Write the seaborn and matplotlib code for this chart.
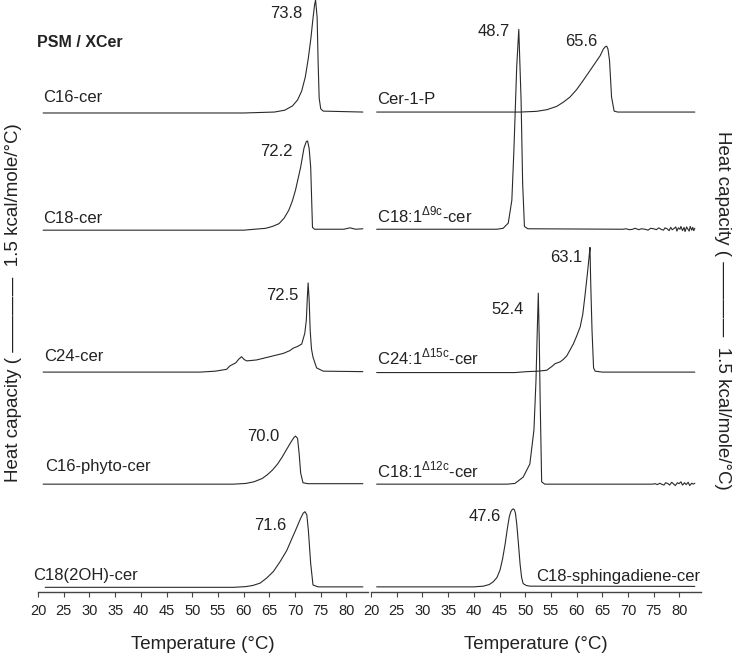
import matplotlib
matplotlib.use('Agg')
import matplotlib.pyplot as plt
import numpy as np
import seaborn as sns

# DSC thermograms of PSM / X-ceramide mixtures, Cp in kcal/mole/°C above each baseline
# ---- left panel ----
c16_T = [21.0, 60.0, 66.0, 68.0, 69.5, 70.5, 71.3, 72.0, 72.6, 73.1, 73.5, 73.8, 74.0, 74.3, 74.5, 74.7, 75.0, 75.5, 83.2]
c16_cp = [0, 0, 0.02, 0.06, 0.15, 0.28, 0.47, 0.77, 1.18, 1.61, 2.03, 2.31, 2.42, 2.05, 1.07, 0.32, 0.09, 0.04, 0.02]

c18_T = [21.0, 60.0, 64.3, 65.6, 66.9, 67.9, 68.8, 69.5, 70.1, 71.1, 71.75, 72.2, 72.45, 72.75, 73.05, 73.4, 73.8,
         79.5, 80.7, 81.8, 83.2]
c18_cp = [0, 0, 0.04, 0.08, 0.14, 0.26, 0.43, 0.63, 0.86, 1.35, 1.76, 1.9, 1.91, 1.75, 1.35, 0.06, 0.02,
          0.02, 0.05, 0.02, 0.03]

c24_T = [21.0, 51.5, 54.5, 56.7, 57.3, 58.5, 59.0, 59.6, 60.1, 60.6, 62.5, 65.1, 67.7, 69.0, 69.6, 70.5, 71.3,
         71.9, 72.2, 72.4, 72.55, 72.75, 72.95, 73.2, 73.5, 74.2, 75.5, 83.2]
c24_cp = [0, 0, 0.02, 0.06, 0.13, 0.2, 0.27, 0.33, 0.27, 0.24, 0.26, 0.33, 0.40, 0.46, 0.51, 0.55, 0.60,
          0.83, 1.11, 1.6, 1.91, 1.55, 0.9, 0.5, 0.32, 0.09, 0.02, 0.01]

phyto_T = [21.0, 58.0, 60.4, 62.0, 63.6, 64.6, 65.6, 66.6, 67.5, 68.4, 69.2, 69.8, 70.1, 70.5, 70.8, 71.1,
           71.55, 72.5, 83.2]
phyto_cp = [0, 0, 0.015, 0.05, 0.12, 0.2, 0.30, 0.43, 0.58, 0.75, 0.90, 1.0, 1.03, 0.98, 0.66, 0.24,
            0.03, 0.01, 0.01]

oh_T = [21.4, 58.0, 60.4, 61.8, 63.2, 64.5, 65.8, 67.1, 68.4, 69.3, 70.1, 71.1, 71.6, 71.95, 72.3, 72.6,
        73.05, 73.5, 74.5, 83.2]
oh_cp = [0, 0, 0.015, 0.04, 0.09, 0.2, 0.34, 0.55, 0.79, 1.02, 1.22, 1.48, 1.59, 1.62, 1.55, 1.22,
         0.51, 0.05, 0.01, 0.01]

# ---- right panel ----
c1p_T = [21.1, 49.0, 52.2, 54.2, 56.1, 57.4, 58.7, 60.0, 61.3, 62.3, 63.3, 64.6, 65.2, 65.6, 65.85, 66.1,
         66.4, 66.8, 67.3, 68.0, 83.0]
c1p_cp = [0, 0, 0.015, 0.05, 0.12, 0.21, 0.32, 0.48, 0.68, 0.84, 1.00, 1.21, 1.35, 1.40, 1.41, 1.35,
          1.11, 0.32, 0.02, 0.0, 0.0]

d9_T = [21.1, 44.5, 45.7, 46.7, 47.4, 47.8, 48.35, 48.75, 49.2, 49.5, 49.85, 50.5,
        69.0, 69.6, 70.3, 70.9, 71.4, 72.1, 72.6, 73.3, 73.9, 74.4, 75.0, 75.5, 76.0, 76.4, 76.9, 77.2,
        77.6, 78.0, 78.3, 78.6, 79.0, 79.3, 79.5, 79.8, 80.1, 80.3, 80.6, 80.9, 81.1, 81.4, 81.6, 81.9,
        82.1, 82.4, 82.6, 82.8, 83.0]
d9_cp = [0, 0, 0.02, 0.13, 0.62, 1.69, 3.49, 4.28, 2.76, 0.99, 0.06, 0.01,
         0, 0.01, -0.01, 0.0, 0.02, -0.01, 0.01, 0.0, -0.02, 0.02, 0.01, -0.01, 0.03, 0.0, -0.02, 0.03,
         0.01, -0.03, 0.04, -0.01, 0.02, 0.05, -0.04, 0.03, 0.0, 0.06, -0.03, 0.04, -0.05, 0.05, 0.01,
         -0.04, 0.06, -0.02, 0.04, -0.03, 0.02]

d15_T = [21.1, 48.0, 50.3, 52.5, 54.2, 55.3, 55.8, 56.8, 57.4, 58.1, 59.4, 60.0, 60.7, 61.2, 61.6, 62.1,
         62.45, 62.6, 62.75, 63.0, 63.3, 63.6, 65.0, 83.0]
d15_cp = [0, 0, 0.02, 0.03, 0.05, 0.14, 0.19, 0.23, 0.28, 0.36, 0.62, 0.78, 0.98, 1.25, 1.62, 2.12,
          2.5, 2.68, 1.9, 0.9, 0.1, 0.03, 0.01, 0.01]

d12_T = [21.1, 46.5, 48.0, 49.6, 50.9, 51.7, 52.1, 52.35, 52.55, 52.75, 52.9, 53.2, 53.8, 74.8,
         75.3, 75.7, 76.2, 76.5, 77.0, 77.3, 77.8, 78.1, 78.5, 78.9, 79.2, 79.6, 79.9, 80.3, 80.6,
         81.0, 81.3, 81.7, 82.0, 82.4, 82.7, 83.0]
d12_cp = [0, 0, 0.015, 0.15, 0.43, 1.16, 2.23, 3.3, 4.09, 3.0, 1.86, 0.05, 0.0, 0.0,
          0.01, -0.01, 0.02, 0.0, -0.02, 0.03, 0.01, -0.02, 0.04, 0.0, -0.03, 0.03, 0.01, 0.05, -0.02,
          0.03, -0.01, 0.04, -0.03, 0.02, 0.0, 0.02]

sph_T = [21.1, 40.0, 41.85, 43.0, 43.8, 44.5, 45.1, 45.6, 46.1, 46.5, 46.9, 47.2, 47.5, 47.7, 47.9,
         48.1, 48.35, 48.7, 49.0, 49.3, 49.6, 50.2, 50.9, 83.0]
sph_cp = [0, 0, 0.015, 0.05, 0.11, 0.2, 0.36, 0.6, 0.92, 1.23, 1.50, 1.61, 1.66, 1.67, 1.65,
          1.58, 1.35, 0.9, 0.49, 0.2, 0.07, 0.03, 0.015, 0.01]

left_offsets = [10.26, 7.75, 4.71, 2.31, 0.10]
right_offsets = [10.28, 7.77, 4.70, 2.31, 0.11]

left_names = ['C16-cer', 'C18-cer', 'C24-cer', 'C16-phyto-cer', 'C18(2OH)-cer']
right_names = ['Cer-1-P', 'C18:1$^{\\mathregular{\\Delta 9c}}$-cer', 'C24:1$^{\\mathregular{\\Delta 15c}}$-cer',
               'C18:1$^{\\mathregular{\\Delta 12c}}$-cer', 'C18-sphingadiene-cer']
left_peaks = ['73.8', '72.2', '72.5', '70.0', '71.6']
right_peaks = ['48.7', '65.6', '63.1', '52.4', '47.6']
ticks = [20, 25, 30, 35, 40, 45, 50, 55, 60, 65, 70, 75, 80]

sns.set_style('ticks')
plt.rcParams['font.family'] = ['Liberation Sans', 'DejaVu Sans']
plt.rcParams['mathtext.fontset'] = 'custom'
plt.rcParams['mathtext.rm'] = 'Liberation Sans'

fig = plt.figure(figsize=(7.44, 6.58), dpi=100)
axL = fig.add_axes([38 / 744, 66 / 658, 330 / 744, 592 / 658])
axR = fig.add_axes([371 / 744, 66 / 658, 330 / 744, 592 / 658])

line_col = '#2a2a2a'
left_curves = [(c16_T, c16_cp), (c18_T, c18_cp), (c24_T, c24_cp), (phyto_T, phyto_cp), (oh_T, oh_cp)]
right_curves = [(c1p_T, c1p_cp), (d9_T, d9_cp), (d15_T, d15_cp), (d12_T, d12_cp), (sph_T, sph_cp)]

for ax, curves, offs in [(axL, left_curves, left_offsets), (axR, right_curves, right_offsets)]:
    for (t, cp), off in zip(curves, offs):
        sns.lineplot(x=t, y=np.array(cp) + off, ax=ax, color=line_col, lw=0.8,
                     sort=False, estimator=None)
    ax.set_xlim(20, 84.2)
    ax.set_ylim(0, 12.68)
    ax.set_xticks(ticks)
    ax.set_yticks([])
    for s in ['top', 'left', 'right']:
        ax.spines[s].set_visible(False)
    ax.spines['bottom'].set_color('#444444')
    ax.spines['bottom'].set_linewidth(1.0)
    ax.tick_params(axis='x', direction='out', length=3.5, width=0.8, color='#444444',
                   pad=5, labelcolor='#222222', labelsize=10.5)
    ax.set_xlabel('Temperature (°C)', fontsize=13.5, color='#222222')
    ax.xaxis.set_label_coords(0.5, -0.075)
    ax.xaxis.label.set_va('top')
    ax.patch.set_alpha(0)

txt = dict(fontsize=12, color='#222222', va='center')
# left labels
axL.text(19.8, 11.78, 'PSM / XCer', fontsize=11.5, fontweight='bold', color='#222222', va='center')
for name, x, y in zip(left_names, [21.0, 21.0, 21.2, 21.4, 19.0], [10.60, 8.01, 5.05, 2.68, 0.36]):
    axL.text(x, y, name, ha='left', **txt)
for lab, x, y in zip(left_peaks, [71.4, 69.6, 70.6, 66.9, 68.4], [12.40, 9.44, 6.36, 3.32, 1.43]):
    axL.text(x, y, lab, ha='right', **txt)
# right labels
for name, x, y in zip(right_names[:4], [21.2] * 4, [10.54, 8.07, 5.03, 2.61]):
    axR.text(x, y, name, ha='left', **txt)
axR.text(84.0, 0.34, right_names[4], ha='right', **txt)
for lab, x, y in zip(right_peaks, [47.0, 64.0, 61.05, 49.8, 45.3], [12.01, 11.80, 7.17, 6.06, 1.61]):
    axR.text(x, y, lab, ha='right', **txt)

ylab = 'Heat capacity ( \u2014\u2014\u2014\u2014  1.5 kcal/mole/°C)'
fig.text(14 / 744, 1 - 303 / 658, ylab, rotation=90, ha='center', va='center', fontsize=13.5, color='#222222')
fig.text(722 / 744, 1 - 310 / 658, ylab, rotation=270, ha='center', va='center', fontsize=13.5, color='#222222')

fig.savefig('out.png', dpi=100)
